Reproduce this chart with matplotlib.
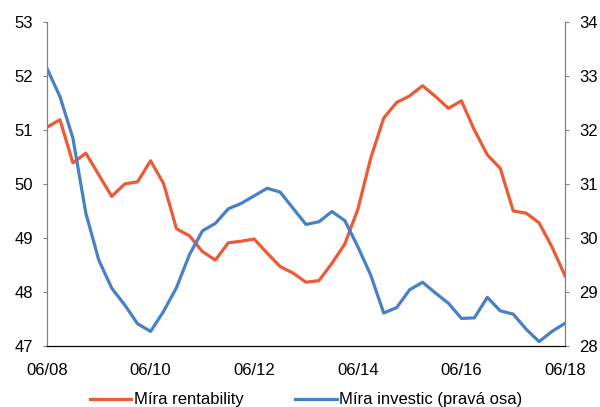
import matplotlib
matplotlib.use("Agg")
import matplotlib.pyplot as plt

plt.rcParams['font.family'] = ['Liberation Sans', 'DejaVu Sans']

# Quarterly data, 06/2008 - 06/2018
mira_rentability = [51.05, 51.19, 50.39, 50.57, 50.17, 49.77, 50.00, 50.04, 50.43, 50.01,
                    49.17, 49.04, 48.75, 48.59, 48.91, 48.94, 48.98, 48.72, 48.47, 48.35,
                    48.18, 48.21, 48.53, 48.89, 49.53, 50.48, 51.22, 51.51, 51.63, 51.82,
                    51.62, 51.40, 51.54, 51.00, 50.54, 50.29, 49.50, 49.46, 49.28, 48.83,
                    48.30]
mira_investic = [33.14, 32.62, 31.85, 30.46, 29.59, 29.07, 28.76, 28.41, 28.27, 28.64,
                 29.08, 29.69, 30.13, 30.27, 30.54, 30.64, 30.78, 30.92, 30.85, 30.55,
                 30.25, 30.30, 30.49, 30.32, 29.84, 29.31, 28.61, 28.71, 29.04, 29.18,
                 28.98, 28.79, 28.51, 28.52, 28.90, 28.65, 28.59, 28.31, 28.08, 28.27,
                 28.42]
tick_labels = ['06/08', '06/10', '06/12', '06/14', '06/16', '06/18']

red = '#EC5A36'
blue = '#4880C8'

fig = plt.figure(figsize=(6, 4.07), dpi=100)
ax = fig.add_axes([0.0783, 0.15, 0.8634, 0.796])
ax2 = ax.twinx()

x = range(len(mira_rentability))
l1, = ax.plot(x, mira_rentability, color=red, lw=2.3, label='Míra rentability')
l2, = ax2.plot(x, mira_investic, color=blue, lw=2.3, label='Míra investic (pravá osa)')

ax.set_xlim(0, len(mira_rentability) - 1)
ax.set_ylim(47, 53)
ax2.set_ylim(28, 34)
ax.set_yticks(range(47, 54))
ax2.set_yticks(range(28, 35))
ax.set_xticks(range(0, 41, 8))
ax.set_xticklabels(tick_labels)

for a in (ax, ax2):
    a.spines['top'].set_visible(False)
    a.spines['left'].set_color('#808080')
    a.spines['right'].set_color('#808080')
    a.spines['bottom'].set_color('black')
    a.tick_params(axis='y', labelsize=12, length=3, width=0.8, color='#808080', pad=7)
ax.tick_params(axis='x', labelsize=12, length=0, pad=12)

fig.legend(handles=[l1, l2], loc='lower center', bbox_to_anchor=(0.51, -0.038), ncol=2,
           frameon=False, fontsize=12, handlelength=2.5, handletextpad=0.15,
           columnspacing=3.1)

fig.savefig('out.png', dpi=100)
